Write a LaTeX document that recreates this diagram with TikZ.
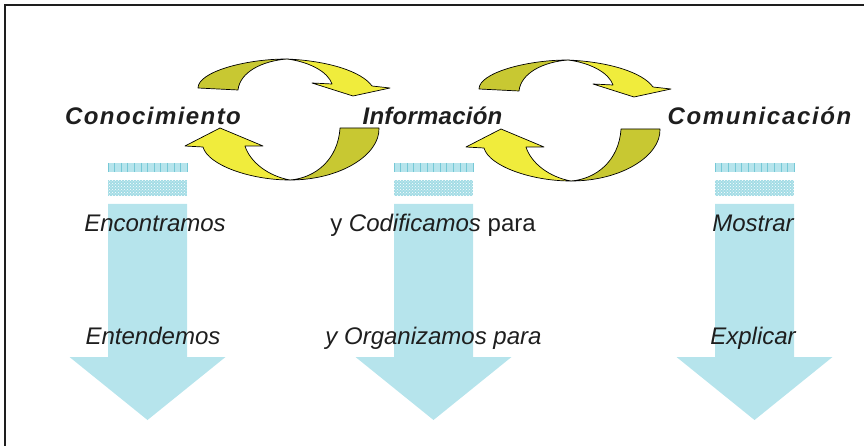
\documentclass[tikz,border=0pt]{standalone}
\usepackage{fontspec}
\setmainfont{Liberation Sans}
\usetikzlibrary{patterns}
\definecolor{olivedark}{RGB}{200,200,50}
\definecolor{lemon}{RGB}{240,236,60}
\definecolor{sky}{RGB}{182,228,236}
\definecolor{skyline}{RGB}{118,200,214}
\definecolor{ink}{RGB}{30,30,30}
\tikzset{
  lbl/.style={anchor=base, inner sep=0pt, text=ink, font=\fontsize{24}{28}\selectfont\bfseries\itshape},
  txt/.style={anchor=base, inner sep=0pt, text=ink, font=\fontsize{24}{28}\selectfont},
  backside/.style={fill=olivedark, draw=black, line width=0.7pt, line join=round},
  frontside/.style={fill=lemon, draw=black, line width=0.7pt, line join=round},
}
\begin{document}
\begin{tikzpicture}[x=1pt,y=-1pt]
\useasboundingbox (0,0) rectangle (864,446);
\draw[ink, line width=1.2pt] (5,446) -- (5,5) -- (864,5);

% blue down arrows
\foreach \c in {147.5,433.5,754.5}{
  \fill[sky] (\c-39.5,163) rectangle (\c+39.5,172);
  \foreach \i in {0,...,12} \draw[skyline, line width=0.5pt] (\c-39.5+\i*6.58,163) -- ++(0,9);
  \fill[sky!70!skyline] (\c-39.5,180) rectangle (\c+39.5,196);
  \fill[pattern=crosshatch dots, pattern color=white] (\c-39.5,180) rectangle (\c+39.5,196);
  \fill[sky] (\c-39.5,204) -- (\c+39.5,204) -- (\c+39.5,357) -- (\c+78,357)
     -- (\c,420) -- (\c-78,357) -- (\c-39.5,357) -- cycle;
}

% circular arrow pairs
\foreach \dx/\dy in {0/0,281/1}{
\begin{scope}[shift={(\dx,\dy)}]
  \path[backside] (198,88) .. controls (198,72) and (245,59) .. (287,59)
     .. controls (262,61) and (240,72) .. (238,90) -- cycle;
  \path[frontside] (287,59) .. controls (330,61) and (362,72) .. (372,86)
     -- (390,88) -- (353,96) -- (312,83) -- (332,84)
     .. controls (328,72) and (310,62) .. (287,59) -- cycle;
  \path[backside] (340,128) -- (379,128) .. controls (380,155) and (340,180) .. (290,180)
     .. controls (315,178) and (338,160) .. (340,128) -- cycle;
  \path[frontside] (290,180) .. controls (250,180) and (208,165) .. (203,147)
     -- (185,146) -- (220,128) -- (263,146) -- (245,146)
     .. controls (250,162) and (268,176) .. (290,180) -- cycle;
\end{scope}
}

% labels
\node[lbl] (con) at (153,125) {\addfontfeature{LetterSpace=6}Conocimiento};
\node[lbl] (inf) at (432.5,125) {\addfontfeature{LetterSpace=1}Información};
\node[lbl] (com) at (759.5,125) {\addfontfeature{LetterSpace=7}Comunicación};

\node[txt] (enc) at (155,232) {\itshape Encontramos};
\node[txt] (cod) at (433,232) {y \textit{Codificamos} para};
\node[txt] (mos) at (753,232) {\itshape Mostrar};

\node[txt] (ent) at (153,344) {\itshape Entendemos};
\node[txt] (org) at (433.5,344) {\itshape y Organizamos para};
\node[txt] (exp) at (753,344) {\itshape Explicar};
\end{tikzpicture}
\end{document}
